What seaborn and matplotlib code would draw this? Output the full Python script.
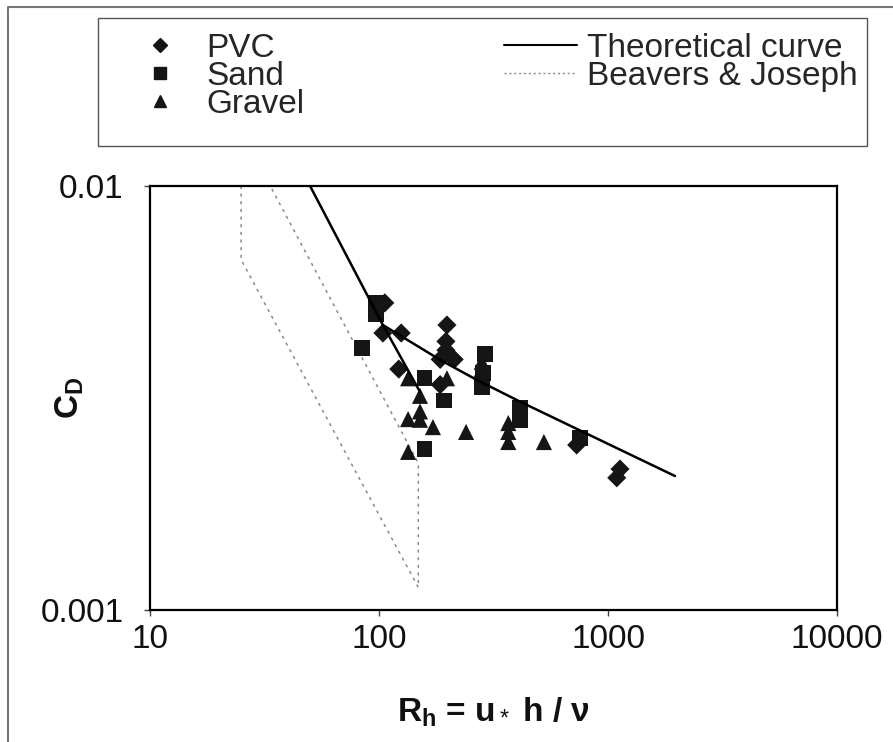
import numpy as np
import pandas as pd
import matplotlib
matplotlib.use('Agg')
import matplotlib.pyplot as plt
import seaborn as sns
from matplotlib.lines import Line2D
from matplotlib.patches import Rectangle

pvc_x = [106, 104, 125, 198, 196, 196, 185, 213, 122, 185, 730, 1128, 1092]
pvc_y = [0.0053, 0.0045, 0.0045, 0.0047, 0.0043, 0.0041, 0.0039, 0.0039, 0.0037, 0.0034, 0.00245, 0.00215, 0.00205]

sand_x = [97, 97, 84, 158, 193, 158, 290, 285, 281, 413, 413, 755]
sand_y = [0.0053, 0.0050, 0.00415, 0.00352, 0.00312, 0.0024, 0.00402, 0.00362, 0.00336, 0.00299, 0.00281, 0.00254]

gravel_x = [134, 198, 151, 151, 134, 151, 172, 240, 134, 281, 281, 367, 367, 367, 525]
gravel_y = [0.00352, 0.00352, 0.0032, 0.00294, 0.00282, 0.00281, 0.0027, 0.00263, 0.00236, 0.00385, 0.0037, 0.00276, 0.00263, 0.00249, 0.00249]

# Theoretical curve: steep branch and main branch
theory_x = [50, 104, 151, 104, 185, 267, 413, 1961]
theory_y = [0.01, 0.0047, 0.00327, 0.0047, 0.00389, 0.00349, 0.0031, 0.00207]
theory_seg = [0, 0, 0, 1, 1, 1, 1, 1]

# Beavers & Joseph envelope
bj_x = [25, 25, 148.5, 148.5, 33.5]
bj_y = [0.01, 0.0067, 0.00113, 0.00222, 0.01]

x_ticks = [10, 100, 1000, 10000]
x_ticklabels = ['10', '100', '1000', '10000']
y_ticks = [0.001, 0.01]
y_ticklabels = ['0.001', '0.01']

sns.set_style('white')
plt.rcParams['font.family'] = ['Liberation Sans', 'DejaVu Sans']
plt.rcParams['mathtext.fontset'] = 'custom'
plt.rcParams['mathtext.rm'] = 'Liberation Sans'
plt.rcParams['mathtext.bf'] = 'Liberation Sans:bold'
plt.rcParams['mathtext.it'] = 'Liberation Sans:italic'

W, H = 893, 742
fs = 24
fig = plt.figure(figsize=(W / 100, H / 100), dpi=100)
ax = fig.add_axes([150 / W, 1 - 610 / H, 687 / W, 424 / H])
ax.set_xscale('log')
ax.set_yscale('log')

mark_col = '#151515'
sns.scatterplot(x=pvc_x, y=pvc_y, marker='D', s=95, color=mark_col, edgecolor='none', ax=ax, zorder=3)
sns.scatterplot(x=sand_x, y=sand_y, marker='s', s=130, color=mark_col, edgecolor='none', ax=ax, zorder=3)
sns.scatterplot(x=gravel_x, y=gravel_y, marker='^', s=135, color=mark_col, edgecolor='none', ax=ax, zorder=3)

theory = pd.DataFrame({'x': theory_x, 'y': theory_y, 'seg': theory_seg})
sns.lineplot(data=theory, x='x', y='y', units='seg', estimator=None, sort=False,
             color='black', lw=1.8, ax=ax, zorder=4)
sns.lineplot(x=bj_x, y=bj_y, estimator=None, sort=False, color='#8a8a8a', lw=1.1,
             linestyle=(0, (2, 3)), ax=ax, zorder=2)

ax.set_xlim(10, 10000)
ax.set_ylim(0.001, 0.01)
ax.minorticks_off()
ax.set_xticks(x_ticks)
ax.set_xticklabels(x_ticklabels)
ax.set_yticks(y_ticks)
ax.set_yticklabels(y_ticklabels)
ax.tick_params(axis='both', which='major', direction='out', length=4, width=1,
               color='#444444', labelsize=fs, labelcolor='#111111', bottom=True, left=True)
ax.tick_params(axis='x', pad=6)
ax.tick_params(axis='y', pad=15)
ax.set_xlabel('')
ax.set_ylabel('')
for sp in ax.spines.values():
    sp.set_color('black')
    sp.set_linewidth(1.6)

fig.text(70 / W, 1 - 398 / H, r'C$_\mathbf{D}$', rotation=90, ha='center', va='center',
         fontsize=fs, fontweight='bold', color='#111111')
fig.text(493 / W, 1 - 712 / H, r'R$_\mathbf{h}$ = u$_*$ h / ν', ha='center', va='center',
         fontsize=fs, fontweight='bold', color='#111111')

# legend box and entries
fig.patches.append(Rectangle((98 / W, 1 - 146 / H), (867 - 98) / W, (146 - 18) / H,
                             transform=fig.transFigure, fill=False, edgecolor='#555555', lw=1))
handles = [
    Line2D([], [], marker='D', ls='none', color=mark_col, markersize=7),
    Line2D([], [], marker='s', ls='none', color=mark_col, markersize=8),
    Line2D([], [], marker='^', ls='none', color=mark_col, markersize=8),
    Line2D([], [], color='black', lw=1.5),
    Line2D([], [], color='#8a8a8a', lw=1, linestyle=(0, (1.5, 2))),
]
labels = ['PVC', 'Sand', 'Gravel', 'Theoretical curve', 'Beavers & Joseph']
em = fs * 100 / 72
fig.legend(handles, labels, ncol=2, loc='upper left', bbox_to_anchor=(123 / W, 1 - 33 / H),
           frameon=False, fontsize=fs, handlelength=73 / em,
           handletextpad=10 / em, columnspacing=6.0, labelspacing=-0.09,
           borderpad=0, borderaxespad=0)

# outer frame
fig.lines.append(Line2D([8 / W, 8 / W, 1.0], [0, 1 - 7 / H, 1 - 7 / H],
                        transform=fig.transFigure, color='#777777', lw=1.5))

fig.savefig('out.png', dpi=100)
